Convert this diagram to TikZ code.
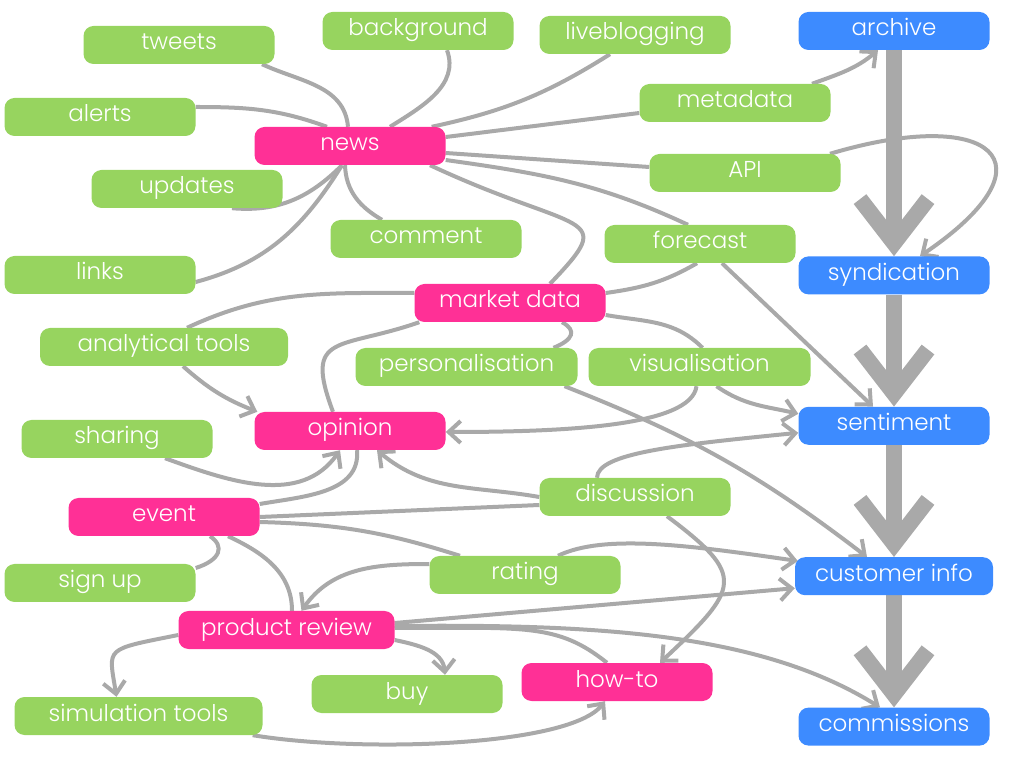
\documentclass[tikz,border=0pt]{standalone}
\usepackage{fontspec}
\setmainfont{Poppins Light}
\usetikzlibrary{arrows.meta,positioning,backgrounds}
\definecolor{leaf}{HTML}{97D45F}
\definecolor{hot}{HTML}{FF3096}
\definecolor{sky}{HTML}{3D8BFF}
\definecolor{wire}{HTML}{A9A9A9}
\tikzset{
  topic/.style ={rounded corners=10pt,fill=leaf,text=white,minimum width=191pt,
                 minimum height=38pt,inner sep=0pt,text height=15pt,text depth=5pt,
                 font=\fontsize{23}{26}\selectfont},
  hub/.style   ={topic,fill=hot},
  outlet/.style={topic,fill=sky},
  link/.style  ={line width=4pt,draw=wire},
  flow/.style  ={link,-{Straight Barb[length=12pt,width=22pt]}},
  trunk/.style ={line width=16pt,draw=wire,-{Straight Barb[length=44pt,width=68pt]}}
}

\begin{document}
\begin{tikzpicture}[x=1pt,y=1pt]
    \useasboundingbox (0,0) rectangle (1015,761);
    % pink hubs
    \node[hub] (news) at (350,615) {news};
    \node[hub] (mdata) at (510,458) {market data};
    \node[hub] (opinion) at (350,330) {opinion};
    \node[hub] (event) at (164,244) {event};
    \node[hub,minimum width=216pt] (review) at (286.5,131) {product review};
    \node[hub] (howto) at (617,79) {how-to};
    % green topics
    \node[topic] (tweets) at (179,716) {tweets};
    \node[topic] (bg) at (418,730) {background};
    \node[topic] (live) at (635,726) {liveblogging};
    \node[topic] (alerts) at (100,644) {alerts};
    \node[topic] (meta) at (735,658) {metadata};
    \node[topic] (api) at (745,588) {API};
    \node[topic] (updates) at (187,572) {updates};
    \node[topic] (comment) at (426,522) {comment};
    \node[topic] (forecast) at (700,517) {forecast};
    \node[topic] (links) at (100,486) {links};
    \node[topic,minimum width=248pt] (atools) at (164,414) {analytical tools};
    \node[topic,minimum width=222pt] (perso) at (466.5,394) {personalisation};
    \node[topic,minimum width=222pt] (visu) at (699.5,394) {visualisation};
    \node[topic] (sharing) at (117,322) {sharing};
    \node[topic] (disc) at (635,264) {discussion};
    \node[topic] (rating) at (525,186) {rating};
    \node[topic] (signup) at (100,178) {sign up};
    \node[topic] (buy) at (407,67) {buy};
    \node[topic,minimum width=248pt] (simtools) at (138.5,45) {simulation tools};
    % blue column
    \node[outlet] (archive) at (894,730) {archive};
    \node[outlet,below=206pt of archive] (synd) {syndication};
    \node[outlet,below=112pt of synd] (senti) {sentiment};
    \node[outlet,below=112pt of senti,minimum width=198pt] (cinfo) {customer info};
    \node[outlet,below=112pt of cinfo] (comm) {commissions};

    \begin{scope}[on background layer]
    % around news
    \draw[link] ([xshift=83pt]tweets.south) to[out=-25,in=95] ([xshift=-2pt]news.north);
    \draw[link] ([yshift=10pt]alerts.east) to[out=0,in=160] ([xshift=-23pt]news.north);
    \draw[link] ([xshift=29pt]bg.south) to[out=-70,in=32] ([xshift=40pt]news.north);
    \draw[link] ([xshift=-25pt]live.south) to[bend left=10] ([xshift=-14pt]news.north east);
    \draw[link] ([yshift=-10pt]meta.west) -- ([yshift=9pt]news.east);
    \draw[link] ([yshift=6pt]api.west) -- ([yshift=-7pt]news.east);
    \draw[link] ([yshift=-14pt]news.east) to[out=-8,in=155] ([xshift=-12pt]forecast.north);
    \draw[link] ([xshift=80pt]news.south) .. controls +(150,-70) and +(70,73) .. ([xshift=40pt]mdata.north);
    \draw[link] ([xshift=-8pt]news.south) to[out=-135,in=-5] ([xshift=45pt]updates.south);
    \draw[link] ([xshift=-8pt]news.south) to[out=-122,in=15] ([yshift=-7pt]links.east);
    \draw[link] ([xshift=-5pt]news.south) to[out=-88,in=150] ([xshift=-44pt]comment.north);
    % market data
    \draw[link] ([yshift=10pt]mdata.east) to[out=8,in=-150] ([xshift=-3pt]forecast.south);
    \draw[link] ([yshift=10pt]mdata.west) to[out=180,in=25] ([xshift=23pt]atools.north);
    \draw[link] ([xshift=5pt]mdata.south west) .. controls +(-80,-28) and +(-30,80) .. ([xshift=-17pt]opinion.north);
    \draw[link] ([xshift=52pt]mdata.south) .. controls +(15,-8) and +(20,8) .. ([xshift=87pt]perso.north);
    \draw[link] ([yshift=-12pt]mdata.east) to[out=-10,in=135] ([xshift=3pt]visu.north);
    \draw[flow] ([xshift=17pt]visu.south) to[out=-35,in=167] ([yshift=12pt]senti.west);
    \draw[flow] ([xshift=-3pt]visu.south) .. controls +(-5,-40) and +(120,0) .. ([yshift=-1pt]opinion.east);
    \draw[flow] ([xshift=22pt]forecast.south) -- ([xshift=-21pt]senti.north);
    \draw[flow] ([xshift=98pt]perso.south) to[bend left=8] ([xshift=-27pt]cinfo.north);
    % discussion
    \draw[flow] ([xshift=-38pt]disc.north) .. controls +(0,25) and +(-120,-12) .. ([yshift=-7pt]senti.west);
    \draw[flow] (disc.west) to[out=170,in=-40] ([xshift=27pt]opinion.south);
    \draw[link] ([yshift=-8pt]disc.west) -- (event.east);
    \draw[flow] ([xshift=32pt]disc.south) .. controls +(80,-60) and +(80,75) .. ([xshift=43pt]howto.north);
    % opinion and event
    \draw[flow] ([xshift=48pt]sharing.south) to[out=-20,in=-125] ([xshift=-10pt]opinion.south);
    \draw[flow] ([xshift=19pt]atools.south) to[bend right=10] ([xshift=3pt]opinion.north west);
    \draw[link] ([yshift=13pt]event.east) to[out=10,in=-85] ([xshift=7pt]opinion.south);
    \draw[link] ([xshift=46pt]event.south) .. controls +(15,-10) and +(25,8) .. ([yshift=15pt]signup.east);
    \draw[link] ([xshift=64pt]event.south) to[out=-25,in=90] ([xshift=5.5pt]review.north);
    \draw[link] ([yshift=-5pt]event.east) to[bend left=8] ([xshift=-65pt]rating.north);
    % rating and product review
    \draw[flow] ([yshift=11pt]rating.west) to[out=180,in=55] ([xshift=15pt]review.north);
    \draw[flow] ([xshift=33pt]rating.north) .. controls +(45,22) and +(-110,16) .. ([xshift=3pt,yshift=-4pt]cinfo.north west);
    \draw[flow] ([yshift=7pt]review.east) -- ([yshift=-12pt]cinfo.west);
    \draw[flow] ([yshift=4pt]review.east) .. controls +(200,2) and +(-120,75) .. ([xshift=-14pt]comm.north);
    \draw[link] ([yshift=2pt]review.east) .. controls +(130,0) and +(-50,40) .. ([xshift=-10pt]howto.north);
    \draw[flow] ([yshift=-10pt]review.east) to[out=-12,in=95] ([xshift=38pt]buy.north);
    \draw[flow] ([yshift=-5pt]review.west) .. controls +(-75,-15) and +(-8,50) .. ([xshift=-22pt]simtools.north);
    \draw[flow] ([xshift=-10pt]simtools.south east) .. controls +(110,-18) and +(-35,-45) .. ([xshift=-12pt]howto.south);
    % into the blue column
    \draw[flow] ([xshift=77pt]meta.north) to[out=20,in=-140] ([xshift=-16pt]archive.south);
    \draw[flow] ([xshift=85pt]api.north) .. controls +(160,48) and +(140,95) .. ([xshift=26pt]synd.north);
    \draw[trunk] (archive) -- (synd);
    \draw[trunk] (synd) -- (senti);
    \draw[trunk] (senti) -- (cinfo);
    \draw[trunk] (cinfo) -- (comm);
    \end{scope}
\end{tikzpicture}
\end{document}
